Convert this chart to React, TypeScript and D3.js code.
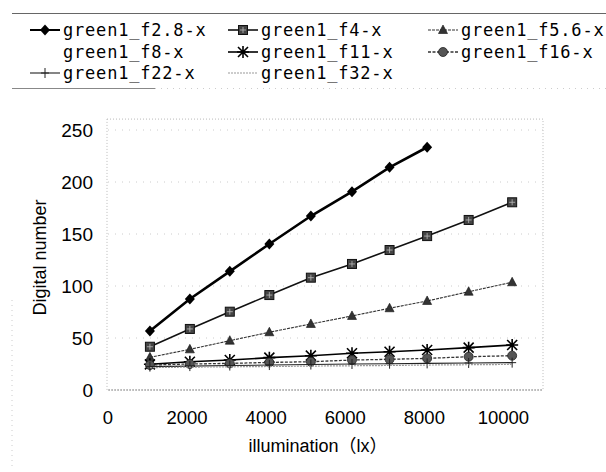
import React from "react";
import * as d3 from "d3";

const W = 606;
const H = 472;

const xValues = [1060, 2070, 3080, 4080, 5130, 6170, 7120, 8070, 9120, 10220];
const f28 = [56.7, 87.5, 114.1, 140.4, 167.3, 190.7, 214.1, 233.4];
const f4 = [41.6, 58.7, 75.3, 91.3, 108, 121.2, 134.6, 148, 163.5, 180.5];
const f56 = [31.4, 39.1, 47.4, 55.5, 63.5, 71.2, 78.6, 85.6, 94.5, 103.6];
const f8 = [23, 23.8, 24.5, 25.2, 26, 26.7, 27.4, 28, 28.8, 29.5];
const f11 = [24.7, 27.2, 28.8, 31.1, 33.0, 35.3, 36.8, 38.5, 40.7, 43.3];
const f16 = [24, 25, 25.6, 26.5, 27.2, 28.8, 29.5, 30.4, 32, 33];
const f22 = [22.5, 23, 23.5, 24, 24.5, 25, 25.3, 25.6, 26, 26.3];
const f32 = [21.5, 22, 22.3, 22.6, 23, 23.3, 23.6, 24, 24.3, 24.6];

const seriesNames = [
  "green1_f2.8-x",
  "green1_f4-x",
  "green1_f5.6-x",
  "green1_f8-x",
  "green1_f11-x",
  "green1_f16-x",
  "green1_f22-x",
  "green1_f32-x",
];
const seriesValues = [f28, f4, f56, f8, f11, f16, f22, f32];
const xTicks = [0, 2000, 4000, 6000, 8000, 10000];
const yTicks = [0, 50, 100, 150, 200, 250];

type Style = {
  stroke: string;
  width: number;
  dash?: string;
  marker: string;
};
const styles: Style[] = [
  { stroke: "#000", width: 2.6, marker: "diamond" },
  { stroke: "#111", width: 1.6, marker: "square" },
  { stroke: "#333", width: 1.1, dash: "3,1", marker: "triangle" },
  { stroke: "#fff", width: 1, marker: "none" },
  { stroke: "#000", width: 1.6, marker: "star" },
  { stroke: "#333", width: 1.3, dash: "3,1.5", marker: "circle" },
  { stroke: "#222", width: 1.1, marker: "plus" },
  { stroke: "#999", width: 1.2, dash: "2,1", marker: "none" },
];

function Marker({ type, cx, cy }: { type: string; cx: number; cy: number }) {
  switch (type) {
    case "diamond":
      return (
        <path
          d={`M${cx},${cy - 5.5}L${cx + 5},${cy}L${cx},${cy + 5.5}L${cx - 5},${cy}Z`}
          fill="#000"
        />
      );
    case "square":
      return (
        <g>
          <rect x={cx - 4.5} y={cy - 4.5} width={9} height={9} fill="#444" stroke="#111" strokeWidth={1} />
          <path d={`M${cx - 3},${cy}H${cx + 3}M${cx},${cy - 3}V${cy + 3}`} stroke="#bbb" strokeWidth={0.8} />
        </g>
      );
    case "triangle":
      return (
        <path
          d={`M${cx},${cy - 5}L${cx + 4.5},${cy + 3.5}L${cx - 4.5},${cy + 3.5}Z`}
          fill="#333"
          stroke="#111"
          strokeWidth={0.6}
        />
      );
    case "star":
      return (
        <path
          d={`M${cx - 5},${cy - 5}L${cx + 5},${cy + 5}M${cx + 5},${cy - 5}L${cx - 5},${cy + 5}M${cx},${cy - 6}V${cy + 6}M${cx - 6},${cy}H${cx + 6}`}
          stroke="#000"
          strokeWidth={1.6}
        />
      );
    case "circle":
      return <circle cx={cx} cy={cy} r={4.5} fill="#555" stroke="#222" strokeWidth={0.8} />;
    case "plus":
      return (
        <path d={`M${cx},${cy - 5}V${cy + 5}M${cx - 4},${cy}H${cx + 4}`} stroke="#222" strokeWidth={1} />
      );
    default:
      return null;
  }
}

export default function App() {
  const x = d3.scaleLinear().domain([0, 11000]).range([108, 543]);
  const y = d3.scaleLinear().domain([0, 250]).range([390, 130]);
  const top = y(260.5);
  const line = d3
    .line<[number, number]>()
    .x((d) => x(d[0]))
    .y((d) => y(d[1]));

  const legendCols = [30, 228, 428];
  const legendRows = [30, 52, 73];

  return (
    <svg width={W} height={H} style={{ position: "absolute", left: 0, top: 0, background: "#fff" }}>
      <rect x={0} y={0} width={W} height={H} fill="#fff" />
      {/* chart area border (faint) */}
      <line x1={12} y1={300} x2={12} y2={470} stroke="#ccc" strokeDasharray="1,4" />
      {/* legend box lines */}
      <line x1={12} y1={13.5} x2={606} y2={13.5} stroke="#666" strokeWidth={1} />
      <line x1={12} y1={88.5} x2={155} y2={88.5} stroke="#888" strokeWidth={1} />
      <line x1={155} y1={88.5} x2={606} y2={88.5} stroke="#ccc" strokeDasharray="1,5" />

      {/* plot area */}
      <rect
        x={x(0) - 1}
        y={top}
        width={x(11000) - x(0) + 1}
        height={y(0) - top}
        fill="none"
        stroke="#bbb"
        strokeDasharray="1,2"
      />
      {yTicks.slice(1).map((t) => (
        <line key={t} x1={x(0)} x2={x(11000)} y1={y(t)} y2={y(t)} stroke="#ccc" strokeDasharray="1,6" />
      ))}
      <line x1={x(0)} x2={x(11000)} y1={y(0)} y2={y(0)} stroke="#999" strokeDasharray="2,1" />

      {/* series */}
      {seriesValues.map((vals, i) => {
        const pts: [number, number][] = vals.map((v, j) => [xValues[j], v]);
        const s = styles[i];
        return (
          <g key={seriesNames[i]}>
            <path d={line(pts) || ""} fill="none" stroke={s.stroke} strokeWidth={s.width} strokeDasharray={s.dash} />
            {pts.map((p, j) => (
              <Marker key={j} type={s.marker} cx={x(p[0])} cy={y(p[1])} />
            ))}
          </g>
        );
      })}

      {/* y tick labels */}
      {yTicks.map((t) => (
        <text
          key={t}
          x={93}
          y={y(t) + 7}
          textAnchor="end"
          fontFamily="'Liberation Sans', Arial, sans-serif"
          fontSize={19}
          fill="#000"
        >
          {t}
        </text>
      ))}
      {/* x tick labels */}
      {xTicks.map((t) => (
        <text
          key={t}
          x={x(t)}
          y={424}
          textAnchor="middle"
          fontFamily="'Liberation Sans', Arial, sans-serif"
          fontSize={18.5}
          fill="#000"
        >
          {t}
        </text>
      ))}
      <text
        x={318}
        y={452}
        textAnchor="middle"
        fontFamily="'Liberation Sans', Arial, 'Noto Sans CJK JP', sans-serif"
        fontSize={18}
        fill="#000"
      >
        illumination（lx）
      </text>
      <text
        transform={`translate(46,${(top + y(0)) / 2 + 3}) rotate(-90)`}
        textAnchor="middle"
        fontFamily="'Liberation Sans', Arial, sans-serif"
        fontSize={18}
        fill="#000"
      >
        Digital number
      </text>

      {/* legend */}
      {seriesNames.map((name, i) => {
        const cx = legendCols[i % 3];
        const cy = legendRows[Math.floor(i / 3)];
        const s = styles[i];
        return (
          <g key={name}>
            {s.stroke !== "#fff" && (
              <line x1={cx} x2={cx + 30} y1={cy} y2={cy} stroke={s.stroke} strokeWidth={Math.min(s.width, 2)} strokeDasharray={s.dash} />
            )}
            <Marker type={s.marker} cx={cx + 15} cy={cy} />
            <text
              x={cx + 33}
              y={cy + 6}
              fontFamily="'DejaVu Sans Mono', monospace"
              fontSize={17}
              letterSpacing={0.8}
              fill="#000"
            >
              {name}
            </text>
          </g>
        );
      })}
    </svg>
  );
}
